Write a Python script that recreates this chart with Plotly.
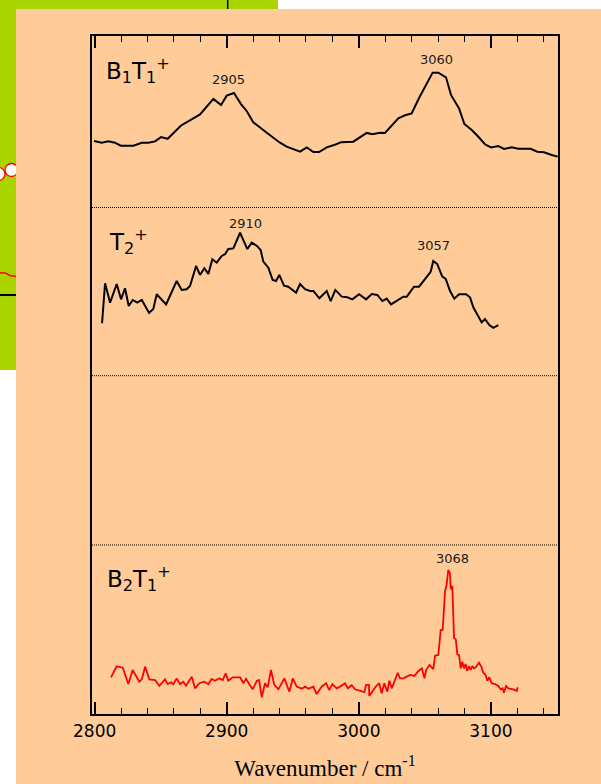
import plotly.graph_objects as go

W, H = 601, 784

# ---- spectra (wavenumber in cm-1, relative intensity 0-100 within each panel) ----
b1t1_wn = [2799.5, 2805.4, 2810.4, 2815.4, 2819.8, 2829.3, 2835.7, 2840.7, 2845.7, 2850.3,
           2855.3, 2865.2, 2879.8, 2889.9, 2895.7, 2900.0, 2905.5, 2910.8, 2915.1, 2920.1,
           2930.3, 2940.3, 2945.4, 2955.5, 2960.6, 2965.6, 2969.9, 2975.7, 2980.7, 2986.5,
           2995.8, 3000.9, 3006.0, 3010.2, 3016.0, 3019.8, 3029.9, 3035.0, 3040.0, 3045.6,
           3050.6, 3055.9, 3060.2, 3066.0, 3069.8, 3075.9, 3079.9, 3085.5, 3090.5, 3095.5,
           3100.1, 3105.6, 3109.9, 3115.7, 3120.7, 3130.1, 3135.1, 3140.2, 3146.0, 3150.6]
b1t1_int = [38.7, 37.7, 38.5, 37.7, 36.0, 36.0, 37.7, 37.7, 38.5, 41.0,
            40.0, 47.6, 54.2, 63.2, 59.7, 65.1, 66.6, 60.2, 56.2, 49.6,
            43.5, 37.7, 35.4, 32.5, 35.0, 32.3, 32.3, 35.0, 36.2, 38.0,
            38.3, 40.9, 43.4, 42.6, 43.5, 43.4, 51.9, 53.7, 54.8, 63.7,
            70.7, 78.5, 78.5, 75.8, 65.5, 57.7, 48.6, 45.1, 41.2, 36.8,
            35.0, 35.8, 34.1, 35.0, 34.2, 34.2, 32.5, 32.1, 30.6, 29.6]

t2_wn = [2805.6, 2807.9, 2811.7, 2816.7, 2820.0, 2823.0, 2825.8, 2828.8, 2832.3, 2835.7,
         2841.2, 2844.4, 2847.0, 2854.1, 2862.1, 2865.9, 2869.7, 2872.2, 2876.8, 2879.8,
         2883.0, 2886.1, 2889.1, 2892.4, 2896.2, 2898.7, 2901.2, 2905.0, 2910.1, 2915.6,
         2918.9, 2922.7, 2925.7, 2927.7, 2931.5, 2934.8, 2937.3, 2939.8, 2943.4, 2946.6,
         2952.5, 2955.5, 2959.3, 2963.1, 2965.6, 2970.1, 2975.7, 2978.7, 2982.2, 2987.1,
         2991.3, 2995.1, 3000.2, 3005.5, 3009.8, 3014.0, 3017.8, 3021.1, 3024.4, 3030.7,
         3033.7, 3036.3, 3041.8, 3045.6, 3050.9, 3054.4, 3056.4, 3059.4, 3063.2, 3065.8,
         3069.0, 3072.3, 3075.9, 3081.2, 3084.2, 3086.7, 3093.0, 3095.5, 3098.8, 3101.8,
         3105.6]
t2_int = [31.2, 54.9, 43.4, 54.5, 45.4, 52.0, 41.4, 45.0, 43.4, 45.0,
          37.3, 39.7, 48.4, 42.4, 56.3, 51.0, 51.4, 53.3, 65.2, 59.9,
          63.9, 60.5, 69.2, 67.2, 71.2, 72.2, 75.3, 75.7, 85.0, 75.3,
          79.1, 77.3, 74.7, 67.8, 64.2, 56.9, 56.3, 59.9, 53.5, 52.9,
          49.3, 54.5, 51.4, 50.4, 50.4, 46.0, 50.4, 44.4, 51.0, 47.0,
          46.6, 45.4, 48.4, 45.4, 48.6, 48.0, 44.4, 45.8, 42.4, 45.4,
          47.0, 47.0, 52.9, 52.9, 58.3, 61.8, 68.2, 66.4, 58.9, 57.5,
          50.5, 45.8, 48.4, 48.4, 46.6, 40.7, 31.7, 33.7, 30.1, 28.5,
          30.1]

b2t1_wn = [2812.4, 2816.7, 2821.3, 2825.5, 2828.8, 2833.8, 2835.7, 2838.2, 2841.4, 2845.7,
           2849.0, 2853.3, 2855.3, 2857.8, 2859.6, 2862.1, 2864.6, 2867.1, 2869.2, 2873.5,
           2876.0, 2879.3, 2883.0, 2886.1, 2888.6, 2891.1, 2894.4, 2897.0, 2899.2, 2901.2,
           2904.5, 2907.6, 2910.1, 2912.6, 2914.6, 2917.1, 2919.7, 2922.7, 2924.5, 2926.5,
           2929.0, 2931.0, 2933.5, 2936.0, 2939.1, 2943.6, 2947.4, 2950.0, 2953.0, 2956.8,
           2959.3, 2961.8, 2965.6, 2968.1, 2971.9, 2975.2, 2977.5, 2980.0, 2983.3, 2985.8,
           2989.6, 2991.7, 2994.6, 2997.1, 3000.9, 3004.2, 3005.5, 3007.7, 3007.9, 3010.2,
           3012.8, 3015.5, 3017.3, 3019.3, 3021.6, 3023.1, 3024.9, 3026.9, 3029.4, 3031.2,
           3033.7, 3036.3, 3038.8, 3042.1, 3044.6, 3047.7, 3049.7, 3051.0, 3053.5, 3056.4,
           3057.7, 3060.2, 3062.0, 3063.5, 3065.3, 3066.5, 3067.7, 3069.0, 3069.6, 3070.8,
           3072.1, 3073.4, 3074.6, 3075.9, 3077.1, 3078.4, 3079.6, 3080.9, 3082.1, 3083.4,
           3084.7, 3085.9, 3087.2, 3088.5, 3091.0, 3093.0, 3094.2, 3096.0, 3097.3, 3098.8,
           3100.6, 3103.1, 3105.6, 3107.4, 3108.9, 3109.9, 3111.5, 3113.2, 3117.0, 3119.6,
           3120.3]
b2t1_int = [21.8, 28.3, 27.5, 17.8, 26.1, 19.2, 20.6, 28.1, 20.6, 20.2,
            16.8, 20.6, 17.8, 18.9, 17.8, 21.2, 17.8, 19.2, 16.8, 22.2,
            15.3, 18.3, 19.2, 17.7, 20.8, 19.8, 21.2, 20.2, 24.2, 19.8,
            21.8, 21.6, 21.8, 18.3, 21.0, 17.7, 14.7, 19.6, 20.2, 10.0,
            18.3, 15.9, 26.1, 17.3, 14.7, 21.2, 13.3, 21.2, 16.3, 15.1,
            16.3, 15.1, 16.3, 11.9, 16.3, 18.3, 14.3, 17.7, 15.3, 16.3,
            18.3, 15.3, 17.1, 14.7, 13.7, 13.1, 17.3, 17.3, 10.8, 13.3,
            16.3, 18.3, 12.4, 18.3, 13.3, 19.8, 15.3, 19.2, 24.5, 21.2,
            21.2, 22.2, 23.2, 22.6, 25.1, 27.1, 21.2, 26.1, 29.1, 26.7,
            34.6, 35.0, 49.8, 49.8, 73.0, 76.4, 85.2, 83.3, 73.8, 75.8,
            44.9, 44.3, 35.4, 35.0, 27.1, 31.0, 27.1, 29.7, 25.5, 28.5,
            26.1, 28.5, 27.1, 27.7, 30.4, 27.7, 24.5, 23.2, 19.8, 21.8,
            18.3, 17.8, 16.7, 14.7, 15.3, 12.7, 16.7, 15.3, 14.7, 13.7,
            15.9]

# peak labels: (text, x, y, axis)
peak_text = ["2905", "3060", "2910", "3057", "3068"]
peak_x = [2901.5, 3058.6, 2914.0, 3056.9, 3070.6]
peak_y = [74.6, 85.9, 90.6, 77.7, 92.1]
peak_axis = ["y", "y", "y2", "y2", "y4"]

panel_names = ["B<sub>1</sub>T<sub>1</sub><sup>+</sup>",
               "T<sub>2</sub><sup>+</sup>",
               "",
               "B<sub>2</sub>T<sub>1</sub><sup>+</sup>"]
panel_name_x = [0.025, 0.032, 0.0, 0.027]
panel_name_y = [0.80, 0.80, 0.0, 0.80]

x_range = [2798.0, 3150.8]
x_ticks = [2800, 2900, 3000, 3100]

# ---- layout geometry (pixels -> paper fractions) ----
def px(x):
    return x / W

def py(y):
    return 1 - y / H

left, right = 92, 558
bounds = [35.7, 207.5, 375.7, 545.0, 714.2]   # panel edges from top to bottom

ORANGE = "#FFCC99"
GREEN = "#A9D400"

fig = go.Figure()
fig.add_trace(go.Scatter(x=b1t1_wn, y=b1t1_int, xaxis="x", yaxis="y", mode="lines",
                         line=dict(color="black", width=2), hoverinfo="skip"))
fig.add_trace(go.Scatter(x=t2_wn, y=t2_int, xaxis="x", yaxis="y2", mode="lines",
                         line=dict(color="black", width=2), hoverinfo="skip"))
fig.add_trace(go.Scatter(x=[], y=[], xaxis="x", yaxis="y3", mode="lines", hoverinfo="skip"))
fig.add_trace(go.Scatter(x=b2t1_wn, y=b2t1_int, xaxis="x", yaxis="y4", mode="lines",
                         line=dict(color="#FF0000", width=1.8), hoverinfo="skip"))
fig.add_trace(go.Scatter(x=[], y=[], xaxis="x2", yaxis="y", mode="lines", hoverinfo="skip"))

tick_common = dict(ticks="inside", ticklen=12, tickwidth=1.5, tickcolor="black",
                   showline=True, linecolor="black", linewidth=1.8, automargin=False,
                   showgrid=False, zeroline=False, fixedrange=True)
minor = dict(dtick=20, tick0=2800, ticks="inside", ticklen=6, tickwidth=1.3,
             tickcolor="black", showgrid=False)

layout = dict(
    width=W, height=H, margin=dict(l=0, r=0, t=0, b=0, autoexpand=False),
    paper_bgcolor="white", plot_bgcolor="rgba(0,0,0,0)", showlegend=False,
    xaxis=dict(domain=[px(left), px(right)], range=x_range, anchor="y4",
               tickmode="array", tickvals=x_ticks, minor=minor,
               tickfont=dict(family="DejaVu Sans", size=17, color="black"),
               title=dict(text="Wavenumber / cm<sup>-1</sup>", standoff=20,
                          font=dict(family="Liberation Serif", size=23, color="black")),
               **tick_common),
    xaxis2=dict(domain=[px(left), px(right)], range=x_range, anchor="y", side="top",
                overlaying="x", tickmode="array", tickvals=x_ticks, minor=minor,
                showticklabels=False, **tick_common),
)
yaxis_names = ["yaxis", "yaxis2", "yaxis3", "yaxis4"]
for i, name in enumerate(yaxis_names):
    layout[name] = dict(domain=[py(bounds[i + 1]), py(bounds[i])], range=[0, 100],
                        anchor="x", mirror="ticks", tickmode="array", tickvals=[0, 100],
                        showticklabels=False,
                        **{**tick_common, "ticklen": 11})

shapes = [
    # green panel behind, with the fragments of its own drawing
    dict(type="rect", xref="paper", yref="paper", x0=0, x1=px(278), y0=py(370), y1=1,
         fillcolor=GREEN, line=dict(width=0), layer="below"),
    dict(type="line", xref="paper", yref="paper", x0=px(227.7), x1=px(227.7), y0=py(9), y1=1,
         line=dict(color="black", width=1.5), layer="below"),
    dict(type="circle", xref="paper", yref="paper", x0=px(-8), x1=px(5), y0=py(180.5), y1=py(167.5),
         fillcolor="white", line=dict(color="#FF0000", width=1.3), layer="below"),
    dict(type="circle", xref="paper", yref="paper", x0=px(5), x1=px(18), y0=py(176.5), y1=py(163.5),
         fillcolor="white", line=dict(color="#FF0000", width=1.3), layer="below"),
    dict(type="path", xref="paper", yref="paper",
         path=f"M {px(0)},{py(272.7)} L {px(6)},{py(273.3)} L {px(10)},{py(275.5)} L {px(16)},{py(276.5)}",
         line=dict(color="#FF0000", width=1.5), layer="below"),
    dict(type="line", xref="paper", yref="paper", x0=0, x1=px(16), y0=py(295), y1=py(295),
         line=dict(color="black", width=2), layer="below"),
    # orange panel carrying the spectra
    dict(type="rect", xref="paper", yref="paper", x0=px(16), x1=1, y0=0, y1=py(9),
         fillcolor=ORANGE, line=dict(width=0), layer="below"),
]
# dotted separators between panels
for b in bounds[1:4]:
    shapes.append(dict(type="line", xref="paper", yref="paper", x0=px(left), x1=px(right),
                       y0=py(b), y1=py(b), line=dict(color="black", width=1, dash="1px,1px"),
                       layer="above"))
layout["shapes"] = shapes

annotations = []
for t, x, y, ax in zip(peak_text, peak_x, peak_y, peak_axis):
    annotations.append(dict(text=t, x=x, y=y, xref="x", yref=ax, showarrow=False,
                            xanchor="center", yanchor="middle",
                            font=dict(family="DejaVu Sans", size=13, color="#1a1a1a")))
name_axes = ["y", "y2", "y3", "y4"]
for nm, nx, ny, ax in zip(panel_names, panel_name_x, panel_name_y, name_axes):
    if nm:
        annotations.append(dict(text=nm, x=nx, y=ny, xref="x domain", yref=ax + " domain",
                                showarrow=False, xanchor="left", yanchor="middle",
                                font=dict(family="DejaVu Sans", size=23, color="black")))
layout["annotations"] = annotations

fig.update_layout(**layout)
fig.write_html("out.html")
